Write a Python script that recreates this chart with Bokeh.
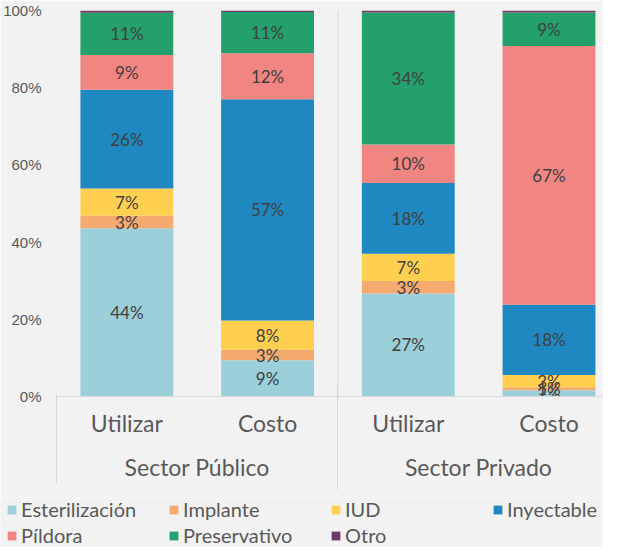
from bokeh.plotting import figure
from bokeh.layouts import column
from bokeh.models import (ColumnDataSource, Range1d, FixedTicker, LinearAxis, Span,
                          Legend, LegendItem)
from bokeh.core.properties import value
from bokeh.embed import file_html
from bokeh.resources import INLINE

# ---- data ----
categories = ["Utilizar", "Costo", "Utilizar", "Costo"]
groups = ["Sector Público", "Sector Privado"]
methods = ["Esterilización", "Implante", "IUD", "Inyectable", "Píldora", "Preservativo", "Otro"]
colors = ["#9bcfda", "#f5aa70", "#ffd04f", "#1f88c0", "#f08582", "#23a06b", "#6e3b64"]

esterilizacion = [43.6, 9.4, 26.7, 1.6]
implante = [3.2, 2.7, 3.2, 0.8]
iud = [7.1, 7.6, 7.1, 3.2]
inyectable = [25.6, 57.3, 18.3, 18.2]
pildora = [9.0, 11.9, 10.0, 67.0]
preservativo = [10.9, 10.7, 34.2, 8.7]
otro = [0.6, 0.4, 0.5, 0.5]

y_ticks = [0, 20, 40, 60, 80, 100]

series = [esterilizacion, implante, iud, inyectable, pildora, preservativo, otro]
keys = ["s%d" % i for i in range(len(series))]
xs = [i + 0.5 for i in range(len(categories))]

data = {"x": xs}
for k, s in zip(keys, series):
    data[k] = s
src = ColumnDataSource(data)

# label positions (segment centres), Otro not labelled
lx, ly, lt = [], [], []
for j in range(len(categories)):
    base = 0.0
    for i, s in enumerate(series):
        v = s[j]
        if i < len(series) - 1:
            lx.append(xs[j])
            ly.append(base + v / 2.0)
            lt.append("%d%%" % int(round(v)))
        base += v
lsrc = ColumnDataSource(dict(x=lx, y=ly, text=lt))

BG = "#f2f2f2"
GRID = "#d9d9d9"
DIV = "#dcd8c4"
unit = 142.0
p = figure(width=603, height=497, x_range=Range1d(0, 552 / unit), y_range=Range1d(0, 100),
           output_backend="svg", toolbar_location=None, frame_align=False,
           min_border_left=51, min_border_right=0, min_border_top=10, min_border_bottom=101,
           background_fill_color=BG, border_fill_color=BG, outline_line_color=None)
p.grid.visible = False

renderers = p.vbar_stack(keys, x="x", width=0.66, source=src, color=colors, line_color=None)

p.text(x="x", y="y", text="text", source=lsrc, text_font=value("Lato"), text_font_size="17px",
       text_color="#404040", text_align="center", text_baseline="middle")

p.add_layout(Span(location=2, dimension="height", line_color=DIV, line_width=1))

# y axis
ya = p.yaxis[0]
ya.ticker = FixedTicker(ticks=y_ticks)
ya.major_label_overrides = {t: "%d%%" % t for t in y_ticks}
ya.axis_line_color = None
ya.major_tick_line_color = None
ya.minor_tick_line_color = None
ya.major_tick_out = 0
ya.minor_tick_out = 0
ya.major_label_standoff = 15
ya.major_label_text_font = "Liberation Sans"
ya.major_label_text_font_size = "15px"
ya.major_label_text_color = "#595959"


def style_axis(ax, size, standoff):
    ax.axis_line_color = None
    ax.major_tick_line_color = None
    ax.minor_tick_line_color = None
    ax.major_tick_out = 0
    ax.major_tick_in = 0
    ax.minor_tick_out = 0
    ax.minor_tick_in = 0
    ax.axis_label_standoff = 0
    ax.major_label_standoff = standoff
    ax.major_label_text_font = "Lato"
    ax.major_label_text_font_size = size
    ax.major_label_text_color = "#595959"


# category axis
xa = p.xaxis[0]
xa.ticker = FixedTicker(ticks=xs)
xa.major_label_overrides = {x: c for x, c in zip(xs, categories)}
style_axis(xa, "23px", 12)
xa.axis_line_color = GRID

# group axis
ga = LinearAxis(ticker=FixedTicker(ticks=[1, 3]),
                major_label_overrides={1: groups[0], 3: groups[1]})
style_axis(ga, "23px", 13)
p.add_layout(ga, "below")

# separator lines below the frame (drawn as minor ticks pointing up)
sep_left = LinearAxis(ticker=FixedTicker(ticks=[], minor_ticks=[0]))
style_axis(sep_left, "1px", 0)
sep_left.minor_tick_line_color = GRID
sep_left.minor_tick_in = 90
p.add_layout(sep_left, "below")

sep_mid = LinearAxis(ticker=FixedTicker(ticks=[], minor_ticks=[2]))
style_axis(sep_mid, "1px", 0)
sep_mid.minor_tick_line_color = DIV
sep_mid.minor_tick_in = 100
sep_mid.minor_tick_out = 6
p.add_layout(sep_mid, "below")

# legend strip: same stacked bars, outside its visible range, only the legend shows
pl = figure(width=603, height=50, x_range=Range1d(10, 11), y_range=Range1d(1000, 1001),
            output_backend="svg", toolbar_location=None, frame_align=False,
            x_axis_location=None, y_axis_location=None,
            min_border_left=0, min_border_right=0, min_border_top=0, min_border_bottom=0,
            background_fill_color=BG, border_fill_color=BG, outline_line_color=None)
pl.grid.visible = False
lrend = pl.vbar_stack(keys, x="x", width=0.66, source=src, color=colors, line_color=None)

legend = Legend(items=[LegendItem(label=m, renderers=[r]) for m, r in zip(methods, lrend)],
                location=(6, 0), orientation="horizontal", ncols=4,
                glyph_width=11, glyph_height=11, label_standoff=4, label_width=145,
                label_height=20, spacing=2, padding=0, margin=0,
                background_fill_alpha=0, border_line_color=None,
                label_text_font="Lato", label_text_font_size="20px", label_text_color="#595959")
pl.add_layout(legend, "center")

layout = column(p, pl, spacing=0)

open("out.html", "w").write(file_html(layout, INLINE))
